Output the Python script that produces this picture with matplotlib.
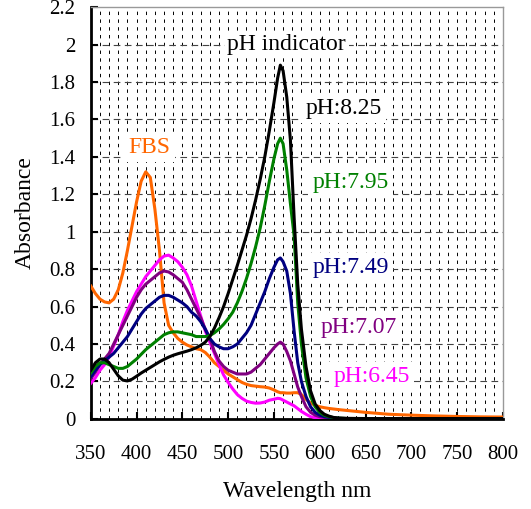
import numpy as np
import matplotlib
matplotlib.use("Agg")
import matplotlib.pyplot as plt

plt.rcParams['font.family'] = ['Liberation Serif', 'DejaVu Serif']

# wavelength grid (nm) shared by all spectra
wl = [350, 355, 360, 365, 370, 375, 380, 385, 390, 395,
      400, 405, 410, 415, 420, 425, 430, 435, 440, 445,
      450, 455, 460, 465, 470, 475, 480, 485, 490, 495,
      500, 505, 510, 515, 520, 525, 530, 535, 540, 545,
      550, 554, 557, 560, 564, 568, 572, 576, 580, 585,
      590, 595, 600, 605, 610, 615, 620, 630, 650, 675,
      700, 725, 750, 775, 800]

fbs = [0.71, 0.67, 0.64, 0.625, 0.62, 0.64, 0.69, 0.78, 0.90, 1.03,
       1.16, 1.27, 1.32, 1.29, 1.12, 0.90, 0.62, 0.50, 0.46, 0.43,
       0.41, 0.395, 0.385, 0.375, 0.37, 0.355, 0.33, 0.30, 0.28, 0.26,
       0.24, 0.225, 0.21, 0.195, 0.185, 0.178, 0.175, 0.172, 0.17, 0.165,
       0.155, 0.145, 0.14, 0.14, 0.138, 0.138, 0.14, 0.14, 0.13, 0.105,
       0.085, 0.072, 0.065, 0.06, 0.056, 0.053, 0.05, 0.045, 0.035, 0.025,
       0.02, 0.016, 0.013, 0.011, 0.01]

ph645 = [0.19, 0.22, 0.26, 0.29, 0.33, 0.39, 0.45, 0.52, 0.58, 0.63,
         0.68, 0.72, 0.76, 0.79, 0.82, 0.85, 0.87, 0.875, 0.86, 0.84,
         0.81, 0.77, 0.71, 0.63, 0.55, 0.47, 0.41, 0.35, 0.29, 0.235,
         0.195, 0.16, 0.13, 0.11, 0.095, 0.088, 0.084, 0.085, 0.09, 0.10,
         0.105, 0.11, 0.108, 0.10, 0.09, 0.08, 0.07, 0.055, 0.04, 0.025,
         0.012, 0.006, 0.004, 0.003, 0.002, 0.002, 0.002, 0.002, 0.002, 0.002,
         0.002, 0.002, 0.002, 0.002, 0.002]

ph707 = [0.215, 0.25, 0.29, 0.32, 0.35, 0.40, 0.45, 0.50, 0.55, 0.60,
         0.65, 0.69, 0.72, 0.74, 0.76, 0.78, 0.79, 0.785, 0.77, 0.75,
         0.73, 0.69, 0.64, 0.59, 0.54, 0.48, 0.43, 0.36, 0.31, 0.28,
         0.26, 0.25, 0.24, 0.24, 0.24, 0.25, 0.27, 0.29, 0.32, 0.35,
         0.38, 0.40, 0.41, 0.40, 0.36, 0.31, 0.24, 0.17, 0.12, 0.065,
         0.035, 0.02, 0.012, 0.008, 0.005, 0.003, 0.002, 0.002, 0.002, 0.002,
         0.002, 0.002, 0.002, 0.002, 0.002]

ph749 = [0.225, 0.26, 0.29, 0.31, 0.33, 0.35, 0.38, 0.41, 0.44, 0.48,
         0.52, 0.56, 0.59, 0.61, 0.63, 0.65, 0.66, 0.66, 0.65, 0.635,
         0.62, 0.60, 0.57, 0.55, 0.52, 0.48, 0.43, 0.40, 0.385, 0.375,
         0.375, 0.385, 0.40, 0.43, 0.46, 0.50, 0.56, 0.62, 0.68, 0.75,
         0.81, 0.85, 0.86, 0.84, 0.79, 0.67, 0.47, 0.30, 0.20, 0.12,
         0.065, 0.035, 0.02, 0.012, 0.008, 0.005, 0.003, 0.002, 0.002, 0.002,
         0.002, 0.002, 0.002, 0.002, 0.002]

ph795 = [0.245, 0.28, 0.30, 0.30, 0.29, 0.28, 0.27, 0.27, 0.28, 0.30,
         0.32, 0.345, 0.37, 0.39, 0.41, 0.43, 0.45, 0.46, 0.465, 0.465,
         0.46, 0.455, 0.45, 0.44, 0.44, 0.44, 0.445, 0.46, 0.48, 0.505,
         0.535, 0.57, 0.62, 0.68, 0.75, 0.83, 0.92, 1.02, 1.14, 1.27,
         1.39, 1.47, 1.50, 1.47, 1.33, 1.15, 0.98, 0.62, 0.40, 0.22,
         0.12, 0.065, 0.035, 0.02, 0.012, 0.007, 0.004, 0.002, 0.002, 0.002,
         0.002, 0.002, 0.002, 0.002, 0.002]

ph825 = [0.26, 0.30, 0.32, 0.32, 0.30, 0.265, 0.23, 0.207, 0.203, 0.212,
         0.228, 0.245, 0.26, 0.275, 0.29, 0.305, 0.318, 0.33, 0.34, 0.348,
         0.355, 0.362, 0.37, 0.38, 0.393, 0.41, 0.44, 0.485, 0.54, 0.60,
         0.67, 0.745, 0.82, 0.90, 0.98, 1.07, 1.17, 1.28, 1.40, 1.54,
         1.69, 1.82, 1.89, 1.86, 1.72, 1.49, 1.08, 0.72, 0.48, 0.28,
         0.15, 0.08, 0.045, 0.025, 0.015, 0.008, 0.005, 0.003, 0.002, 0.002,
         0.002, 0.002, 0.002, 0.002, 0.002]

series = [
    (fbs, '#ff6600', 'FBS', 414, 1.45),
    (ph645, '#ff00ff', 'pH:6.45', 657, 0.225),
    (ph707, '#800080', 'pH:7.07', 643, 0.49),
    (ph749, '#000080', 'pH:7.49', 634, 0.81),
    (ph795, '#008000', 'pH:7.95', 634, 1.265),
    (ph825, '#000000', 'pH:8.25', 626, 1.66),
]

fig = plt.figure(figsize=(5.31, 5.09), dpi=100)
ax = fig.add_axes([0.171, 0.177, 0.776, 0.809])

# grid: vertical dashes every 10 nm, horizontal at the major ticks
for x in range(360, 800, 10):
    ax.axvline(x, color='black', lw=0.7, ls=(0, (3.5, 4.5)), zorder=0)
for y in np.arange(0.2, 2.2, 0.2):
    ax.axhline(y, color='#444444', lw=0.8, ls=(0, (6, 4)), zorder=0)

for ys, col, lab, tx, ty in series:
    ax.plot(wl, ys, color=col, lw=2.2, zorder=3)
    ax.text(tx, ty, lab, color=col, fontsize=17, ha='center', va='center',
            zorder=4, bbox=dict(facecolor='white', edgecolor='none', pad=3))

ax.text(564, 2.0, 'pH indicator', color='black', fontsize=17, ha='center',
        va='center', zorder=4,
        bbox=dict(facecolor='white', edgecolor='none', pad=2))

ax.set_xlim(350, 800)
ax.set_ylim(0, 2.2)
ax.set_xticks(range(350, 801, 50))
yt = np.round(np.arange(0, 2.21, 0.2), 1)
ax.set_yticks(yt)
ax.set_yticklabels(['0' if v == 0 else ('%g' % v) for v in yt])
ax.tick_params(direction='in', length=5, width=1.5, labelsize=15)
ax.tick_params(axis='x', pad=19)
ax.tick_params(axis='y', pad=11)

for s in ['left', 'bottom']:
    ax.spines[s].set_linewidth(2)
    ax.spines[s].set_color('black')
for s in ['top', 'right']:
    ax.spines[s].set_linewidth(1)
    ax.spines[s].set_color('#999999')

ax.set_xlabel('Wavelength nm', fontsize=17, labelpad=12)
ax.set_ylabel('Absorbance', fontsize=17, labelpad=10)

fig.savefig('out.png', dpi=100)
